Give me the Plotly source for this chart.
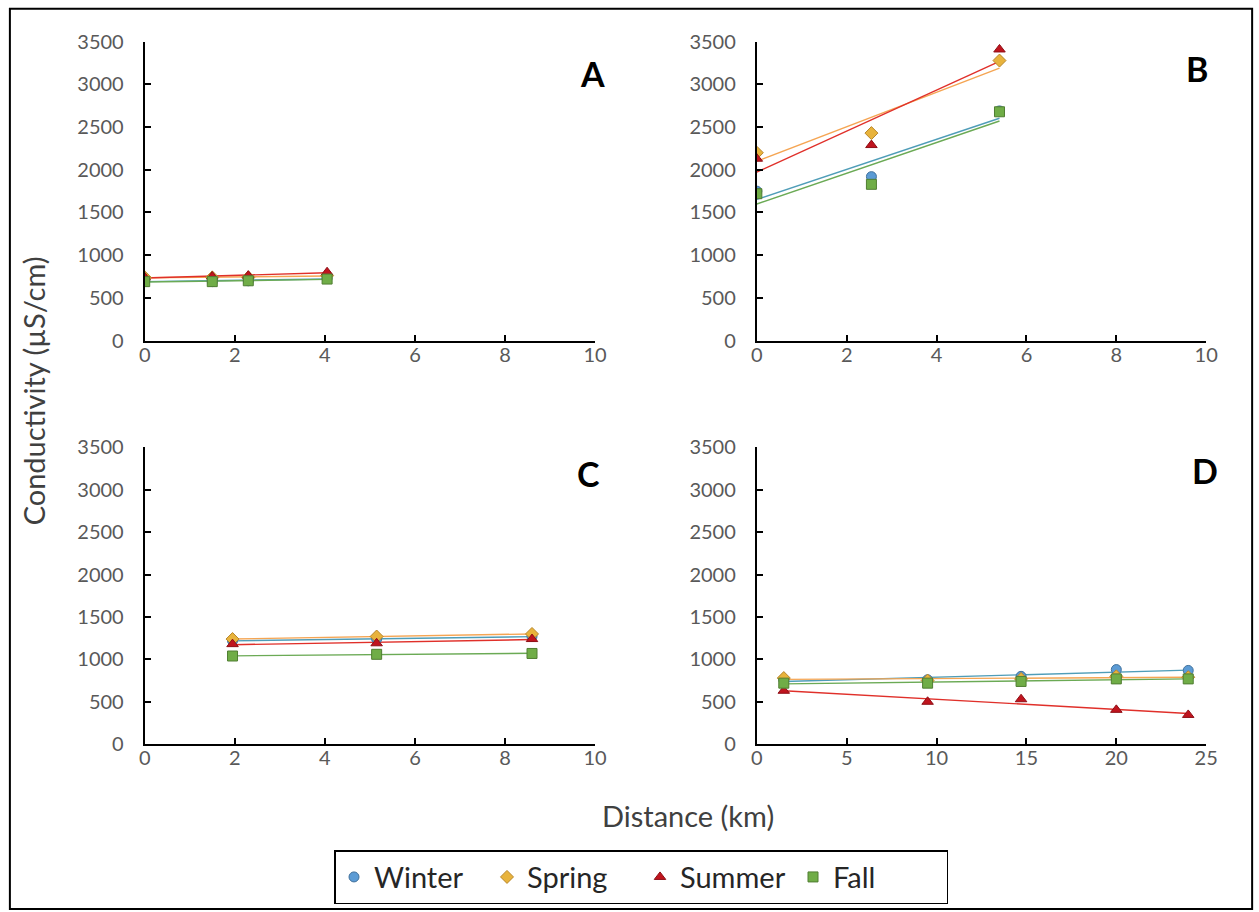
import numpy as np
import plotly.graph_objects as go

W, H = 1259, 912

# ---- Data ----
seasons = ["Winter", "Spring", "Summer", "Fall"]

a_dist = [0, 1.5, 2.3, 4.05]
a_winter = [700, 690, 700, 730]
a_spring = [740, 740, 740, 760]
a_summer = [740, 750, 760, 800]
a_fall = [690, 690, 700, 720]

b_dist = [0, 2.55, 5.4]
b_winter = [1750, 1920, 2690]
b_spring = [2200, 2430, 3280]
b_summer = [2130, 2290, 3410]
b_fall = [1720, 1830, 2680]

c_dist = [1.95, 5.15, 8.6]
c_winter = [1220, 1240, 1270]
c_spring = [1240, 1270, 1300]
c_summer = [1180, 1190, 1240]
c_fall = [1040, 1060, 1070]

d_dist = [1.5, 9.5, 14.7, 20, 24]
d_winter = [760, 760, 800, 880, 870]
d_spring = [780, 750, 770, 800, 790]
d_summer = [630, 500, 530, 405, 345]
d_fall = [720, 720, 740, 770, 770]

panel_labels = ["A", "B", "C", "D"]
x_ranges = [[0, 10], [0, 10], [0, 10], [0, 25]]
x_dticks = [2, 2, 2, 5]
y_range = [0, 3500]
y_dtick = 500

# ---- styles ----
marker_symbols = {"Winter": "circle", "Spring": "diamond", "Summer": "triangle-up", "Fall": "square"}
marker_fill = {"Winter": "#5B9BD5", "Spring": "#E8B33C", "Summer": "#C0141E", "Fall": "#70AD47"}
marker_edge = {"Winter": "#41719C", "Spring": "#B8862A", "Summer": "#8E0F16", "Fall": "#507E32"}
line_col = {"Winter": "#4F9DB8", "Spring": "#F5A553", "Summer": "#E0302A", "Fall": "#6BAA55"}

panels = [
    (a_dist, [a_winter, a_spring, a_summer, a_fall]),
    (b_dist, [b_winter, b_spring, b_summer, b_fall]),
    (c_dist, [c_winter, c_spring, c_summer, c_fall]),
    (d_dist, [d_winter, d_spring, d_summer, d_fall]),
]

# target pixel -> paper fraction (corrected for the capture's slight rescale)
def px_x(p):
    return ((p - 5.1) / 0.9871) / W

def px_y(p):
    return 1 - ((p - 12.2) / 0.9745) / H

xdoms = [[px_x(144), px_x(595)], [px_x(757), px_x(1207)],
         [px_x(144), px_x(595)], [px_x(757), px_x(1207)]]
ydoms = [[px_y(340), px_y(41)], [px_y(340), px_y(41)],
         [px_y(744), px_y(447)], [px_y(744), px_y(447)]]

fig = go.Figure()

for i, (xs, series) in enumerate(panels):
    sfx = "" if i == 0 else str(i + 1)
    xa, ya = "x" + sfx, "y" + sfx
    # trendlines (least-squares fit of each season's points)
    for s, ys in zip(seasons, series):
        k, b = np.polyfit(xs, ys, 1)
        xx = np.array([min(xs), max(xs)])
        fig.add_trace(go.Scatter(x=xx, y=k * xx + b, mode="lines",
                                 line=dict(color=line_col[s], width=1.4),
                                 xaxis=xa, yaxis=ya, showlegend=False,
                                 hoverinfo="skip"))
    for s, ys in zip(seasons, series):
        fig.add_trace(go.Scatter(x=xs, y=ys, mode="markers", name=s,
                                 marker=dict(symbol=marker_symbols[s], size=10,
                                             color=marker_fill[s],
                                             line=dict(color=marker_edge[s], width=1)),
                                 xaxis=xa, yaxis=ya, legendgroup=s,
                                 showlegend=(i == 0)))

FONT = "Lato, Open Sans, sans-serif"
tickfont = dict(family=FONT, size=20, color="#595959")
layout = dict(
    autosize=True,
    margin=dict(l=0, r=0, t=0, b=0),
    paper_bgcolor="white", plot_bgcolor="white",
    showlegend=True,
    legend=dict(orientation="h", x=px_x((338 + 944) / 2), y=px_y(877),
                xanchor="center", yanchor="middle",
                bordercolor="#000000", borderwidth=1.5,
                font=dict(family=FONT, size=29, color="#262626"),
                itemwidth=30, entrywidthmode="pixels", entrywidth=108,
                tracegroupgap=0),
)
for i in range(4):
    sfx = "" if i == 0 else str(i + 1)
    layout["xaxis" + sfx] = dict(
        domain=xdoms[i], anchor="y" + sfx, range=x_ranges[i], dtick=x_dticks[i], tick0=0,
        showgrid=False, zeroline=False, showline=True, linecolor="#000000", linewidth=2,
        ticks="inside", ticklen=6, tickwidth=1.5, tickcolor="#000000",
        tickfont=tickfont, ticklabelstandoff=-5, fixedrange=True)
    layout["yaxis" + sfx] = dict(
        domain=ydoms[i], anchor="x" + sfx, range=y_range, dtick=y_dtick, tick0=0,
        showgrid=False, zeroline=False, showline=True, linecolor="#000000", linewidth=2,
        ticks="inside", ticklen=6, tickwidth=1.5, tickcolor="#000000",
        tickfont=tickfont, ticklabelstandoff=15, fixedrange=True)
fig.update_layout(**layout)

label_pos = [(592, 73), (1198, 68), (588, 473), (1206, 470)]
for lab, (lx, ly) in zip(panel_labels, label_pos):
    fig.add_annotation(text="<b>%s</b>" % lab, x=px_x(lx), y=px_y(ly), xref="paper", yref="paper",
                       showarrow=False, xanchor="center", yanchor="middle",
                       font=dict(family=FONT, size=34, color="#000000"))

fig.add_annotation(text="Conductivity (µS/cm)", x=px_x(33), y=px_y(390), xref="paper", yref="paper",
                   showarrow=False, textangle=-90, xanchor="center", yanchor="middle",
                   font=dict(family=FONT, size=29, color="#404040"))
fig.add_annotation(text="Distance (km)", x=px_x(688), y=px_y(815), xref="paper", yref="paper",
                   showarrow=False, xanchor="center", yanchor="middle",
                   font=dict(family=FONT, size=29, color="#404040"))

fig.add_shape(type="rect", xref="paper", yref="paper",
              x0=px_x(9), x1=px_x(1253), y0=px_y(909), y1=px_y(8),
              line=dict(color="#000000", width=2), fillcolor="rgba(0,0,0,0)")

fig.write_html(
    "out.html",
    default_width="100vw", default_height="100vh",
    config={"responsive": True, "displayModeBar": False},
    post_script=("document.documentElement.style.margin='0';"
                 "document.body.style.margin='0';"
                 "document.documentElement.style.overflow='hidden';"
                 "document.body.style.overflow='hidden';"
                 "var gd=document.getElementById('{plot_id}');"
                 "gd.style.width='100vw';gd.style.height='100vh';"
                 "Plotly.Plots.resize(gd);"),
)
